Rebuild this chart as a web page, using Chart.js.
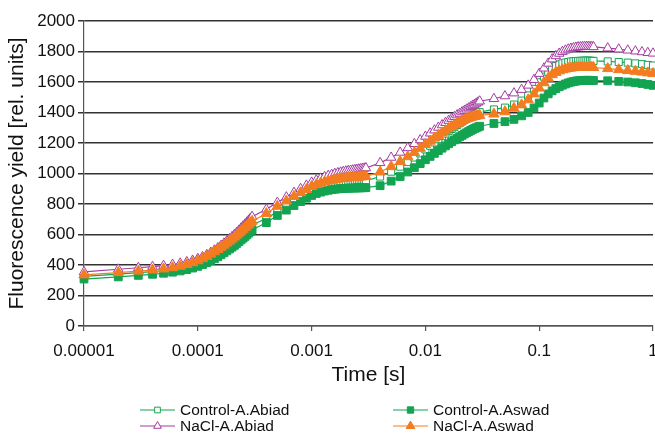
<!DOCTYPE html>
<html>
<head>
<meta charset="utf-8">
<script src="https://cdn.jsdelivr.net/npm/chart.js@4/dist/chart.umd.min.js"></script>
<style>
  html, body { margin: 0; padding: 0; background: #fff; }
  #chart { display: block; }
</style>
</head>
<body>
<canvas id="chart" width="655" height="433"></canvas>
<script>
// time points [s]
const times = [
  0.00001, 0.00002, 0.00003, 0.00004, 0.00005, 0.00006, 0.00007, 0.00008, 0.00009, 0.0001,
  0.00011, 0.00012, 0.00013, 0.00014, 0.00015, 0.00016, 0.00017, 0.00018, 0.00019, 0.0002,
  0.00021, 0.00022, 0.00023, 0.00024, 0.00025, 0.00026, 0.00027, 0.00028, 0.00029, 0.0003,
  0.0004, 0.0005, 0.0006, 0.0007, 0.0008, 0.0009, 0.001,
  0.0011, 0.0012, 0.0013, 0.0014, 0.0015, 0.0016, 0.0017, 0.0018, 0.0019, 0.002,
  0.0021, 0.0022, 0.0023, 0.0024, 0.0025, 0.0026, 0.0027, 0.0028, 0.0029, 0.003,
  0.004, 0.005, 0.006, 0.007, 0.008, 0.009, 0.01,
  0.011, 0.012, 0.013, 0.014, 0.015, 0.016, 0.017, 0.018, 0.019, 0.02,
  0.021, 0.022, 0.023, 0.024, 0.025, 0.026, 0.027, 0.028, 0.029, 0.03,
  0.04, 0.05, 0.06, 0.07, 0.08, 0.09, 0.1,
  0.11, 0.12, 0.13, 0.14, 0.15, 0.16, 0.17, 0.18, 0.19, 0.2,
  0.21, 0.22, 0.23, 0.24, 0.25, 0.26, 0.27, 0.28, 0.29, 0.3,
  0.4, 0.5, 0.6, 0.7, 0.8, 0.9, 1
];

const controlAbiad = [
  325, 340, 350, 357, 364, 372, 381, 391, 402, 414, 427, 440, 454, 468, 482, 496, 509, 522, 535, 548,
  561, 573, 585, 597, 609, 620, 631, 642, 652, 662,
  705, 750, 785, 815, 840, 860, 878, 892, 903, 912, 919, 925, 930, 934, 937, 940, 942,
  944, 945, 946, 947, 948, 949, 950, 950, 951, 952,
  980, 1012, 1045, 1075, 1105, 1132, 1158, 1182, 1204, 1225, 1245, 1262, 1278, 1292, 1306, 1318, 1330,
  1341, 1351, 1360, 1368, 1376, 1383, 1389, 1394, 1398, 1402,
  1420, 1432, 1452, 1478, 1512, 1555, 1598, 1635, 1665, 1688, 1704, 1715, 1722, 1727, 1731, 1734, 1736,
  1737, 1738, 1739, 1739, 1740, 1740, 1740, 1739, 1739, 1738,
  1735, 1731, 1727, 1722, 1717, 1712, 1708
];

const controlAswad = [
  308, 322, 332, 339, 346, 353, 361, 370, 380, 391, 403, 415, 428, 441, 454, 467, 480, 493, 505, 517,
  529, 541, 553, 565, 576, 587, 598, 609, 619, 629,
  678, 725, 760, 790, 816, 838, 856, 869, 878, 885, 890, 894, 897, 899, 901, 902, 903,
  904, 904, 905, 905, 906, 906, 906, 907, 907, 907,
  920, 950, 980, 1010, 1038, 1065, 1090, 1112, 1132, 1150, 1166, 1181, 1195, 1208, 1220, 1231, 1241,
  1250, 1259, 1267, 1275, 1282, 1289, 1295, 1300, 1305, 1310,
  1328, 1340, 1355, 1378, 1400, 1430, 1462, 1495, 1522, 1542, 1557, 1569, 1579, 1587, 1594, 1599, 1603,
  1606, 1608, 1609, 1610, 1611, 1611, 1611, 1611, 1610, 1610,
  1608, 1604, 1600, 1595, 1590, 1584, 1578
];

const naclAbiad = [
  355, 372, 382, 389, 396, 403, 411, 420, 430, 441, 453, 467, 482, 497, 512, 527, 542, 557, 571, 585,
  599, 613, 627, 641, 654, 667, 680, 693, 705, 717,
  765, 810, 845, 875, 900, 922, 942, 956, 968, 978, 986, 993, 999, 1004, 1008, 1012, 1015,
  1018, 1020, 1022, 1024, 1026, 1028, 1030, 1032, 1034, 1036,
  1070, 1105, 1138, 1168, 1195, 1220, 1243, 1264, 1284, 1302, 1318, 1333, 1347, 1360, 1372, 1383, 1393,
  1403, 1412, 1421, 1429, 1437, 1445, 1452, 1460, 1467, 1474,
  1490, 1508, 1527, 1550, 1578, 1615, 1655, 1690, 1722, 1750, 1771, 1787, 1799, 1808, 1815, 1820, 1824,
  1827, 1829, 1830, 1831, 1832, 1832, 1832, 1831, 1831, 1830,
  1822, 1815, 1808, 1802, 1797, 1792, 1788
];

const naclAswad = [
  335, 350, 360, 367, 374, 382, 392, 403, 415, 428, 442, 457, 472, 487, 502, 516, 530, 544, 557, 570,
  583, 596, 609, 621, 633, 645, 656, 667, 677, 687,
  737, 785, 820, 850, 874, 895, 915, 927, 937, 945, 951, 956, 960, 963, 966, 968, 970,
  972, 973, 974, 975, 976, 977, 978, 979, 980, 981,
  1010, 1045, 1078, 1110, 1138, 1165, 1190, 1212, 1232, 1250, 1266, 1281, 1295, 1307, 1318, 1328, 1337,
  1345, 1352, 1358, 1363, 1367, 1371, 1374, 1377, 1379, 1381,
  1390, 1405, 1428, 1450, 1483, 1522, 1560, 1595, 1625, 1648, 1663, 1673, 1680, 1685, 1689, 1692, 1694,
  1695, 1696, 1697, 1697, 1697, 1697, 1697, 1696, 1696, 1695,
  1688, 1681, 1675, 1670, 1665, 1660, 1655
];

const xTicks = [0.00001, 0.0001, 0.001, 0.01, 0.1, 1];

const GREEN = '#13a452';
const PURPLE = '#a23c9f';
const ORANGE = '#f47c20';

const toPts = vals => times.map((t, i) => ({ x: t, y: vals[i] }));

const series = [
  { label: 'Control-A.Abiad', data: controlAbiad, color: GREEN, style: 'rect', fill: '#fff', r: 5, order: 3 },
  { label: 'Control-A.Aswad', data: controlAswad, color: GREEN, style: 'rect', fill: GREEN, r: 5.5, order: 2 },
  { label: 'NaCl-A.Abiad', data: naclAbiad, color: PURPLE, style: 'triangle', fill: '#fff', r: 5.5, order: 1 },
  { label: 'NaCl-A.Aswad', data: naclAswad, color: ORANGE, style: 'triangle', fill: ORANGE, r: 6, order: 0 }
];

// legend: two columns, two rows under the x axis
const legendPlugin = {
  id: 'gridLegend',
  afterDraw(chart) {
    const ctx = chart.ctx;
    const cols = [140, 393];
    const rows = [410, 426];
    ctx.save();
    series.forEach((s, i) => {
      const x = cols[i % 2], y = rows[Math.floor(i / 2)];
      ctx.strokeStyle = s.color;
      ctx.lineWidth = 1.2;
      ctx.beginPath();
      ctx.moveTo(x, y);
      ctx.lineTo(x + 35, y);
      ctx.stroke();
      ctx.fillStyle = s.fill;
      ctx.strokeStyle = s.color;
      ctx.lineWidth = 1;
      Chart.helpers.drawPoint(ctx, { pointStyle: s.style, radius: s.r - 1, rotation: 0, borderWidth: 1 }, x + 17.5, y);
      ctx.fillStyle = '#111';
      ctx.font = '15.5px "Liberation Sans", Arial, Helvetica, sans-serif';
      ctx.textBaseline = 'middle';
      ctx.textAlign = 'left';
      ctx.fillText(s.label, x + 40, y + 1);
    });
    ctx.restore();
  }
};

const FONT = '"Liberation Sans", Arial, Helvetica, sans-serif';

new Chart(document.getElementById('chart').getContext('2d'), {
  type: 'line',
  data: {
    datasets: series.map(s => ({
      label: s.label,
      data: toPts(s.data),
      borderColor: s.color,
      backgroundColor: s.fill,
      borderWidth: 1.2,
      pointStyle: s.style,
      pointRadius: s.r,
      pointBorderWidth: 1,
      pointBorderColor: s.color,
      pointBackgroundColor: s.fill,
      tension: 0,
      clip: false,
      order: s.order
    }))
  },
  options: {
    responsive: false,
    animation: false,
    devicePixelRatio: 1,
    layout: { autoPadding: false, padding: { top: 21, right: 2, bottom: 45, left: 0 } },
    plugins: { legend: { display: false }, tooltip: { enabled: false } },
    scales: {
      x: {
        type: 'logarithmic',
        min: 0.00001,
        max: 1,
        afterBuildTicks: scale => { scale.ticks = xTicks.map(v => ({ value: v })); },
        afterFit: scale => {
          scale.height = 62;
          scale.paddingLeft = 0;
          scale.paddingRight = 0;
        },
        ticks: {
          autoSkip: false,
          maxRotation: 0,
          padding: 10,
          color: '#111',
          font: { family: FONT, size: 17 },
          callback: v => String(v)
        },
        grid: { drawOnChartArea: false, tickLength: 5, color: '#555', lineWidth: 1.2 },
        border: { color: '#555', width: 1.2 },
        title: {
          display: true,
          text: 'Time [s]',
          color: '#111',
          font: { family: FONT, size: 21 },
          padding: 0
        }
      },
      y: {
        min: 0,
        max: 2000,
        afterFit: scale => {
          scale.width = 84;
          scale.paddingTop = 0;
          scale.paddingBottom = 0;
        },
        ticks: {
          stepSize: 200,
          padding: 3,
          color: '#111',
          font: { family: FONT, size: 17 },
          callback: v => String(v)
        },
        grid: { tickLength: 6, color: '#333', lineWidth: 1.5 },
        border: { color: '#555', width: 1.2 },
        title: {
          display: true,
          text: 'Fluorescence yield [rel. units]',
          color: '#111',
          font: { family: FONT, size: 21 },
          padding: { top: 5, bottom: 0 }
        }
      }
    }
  },
  plugins: [legendPlugin]
});
</script>
</body>
</html>
